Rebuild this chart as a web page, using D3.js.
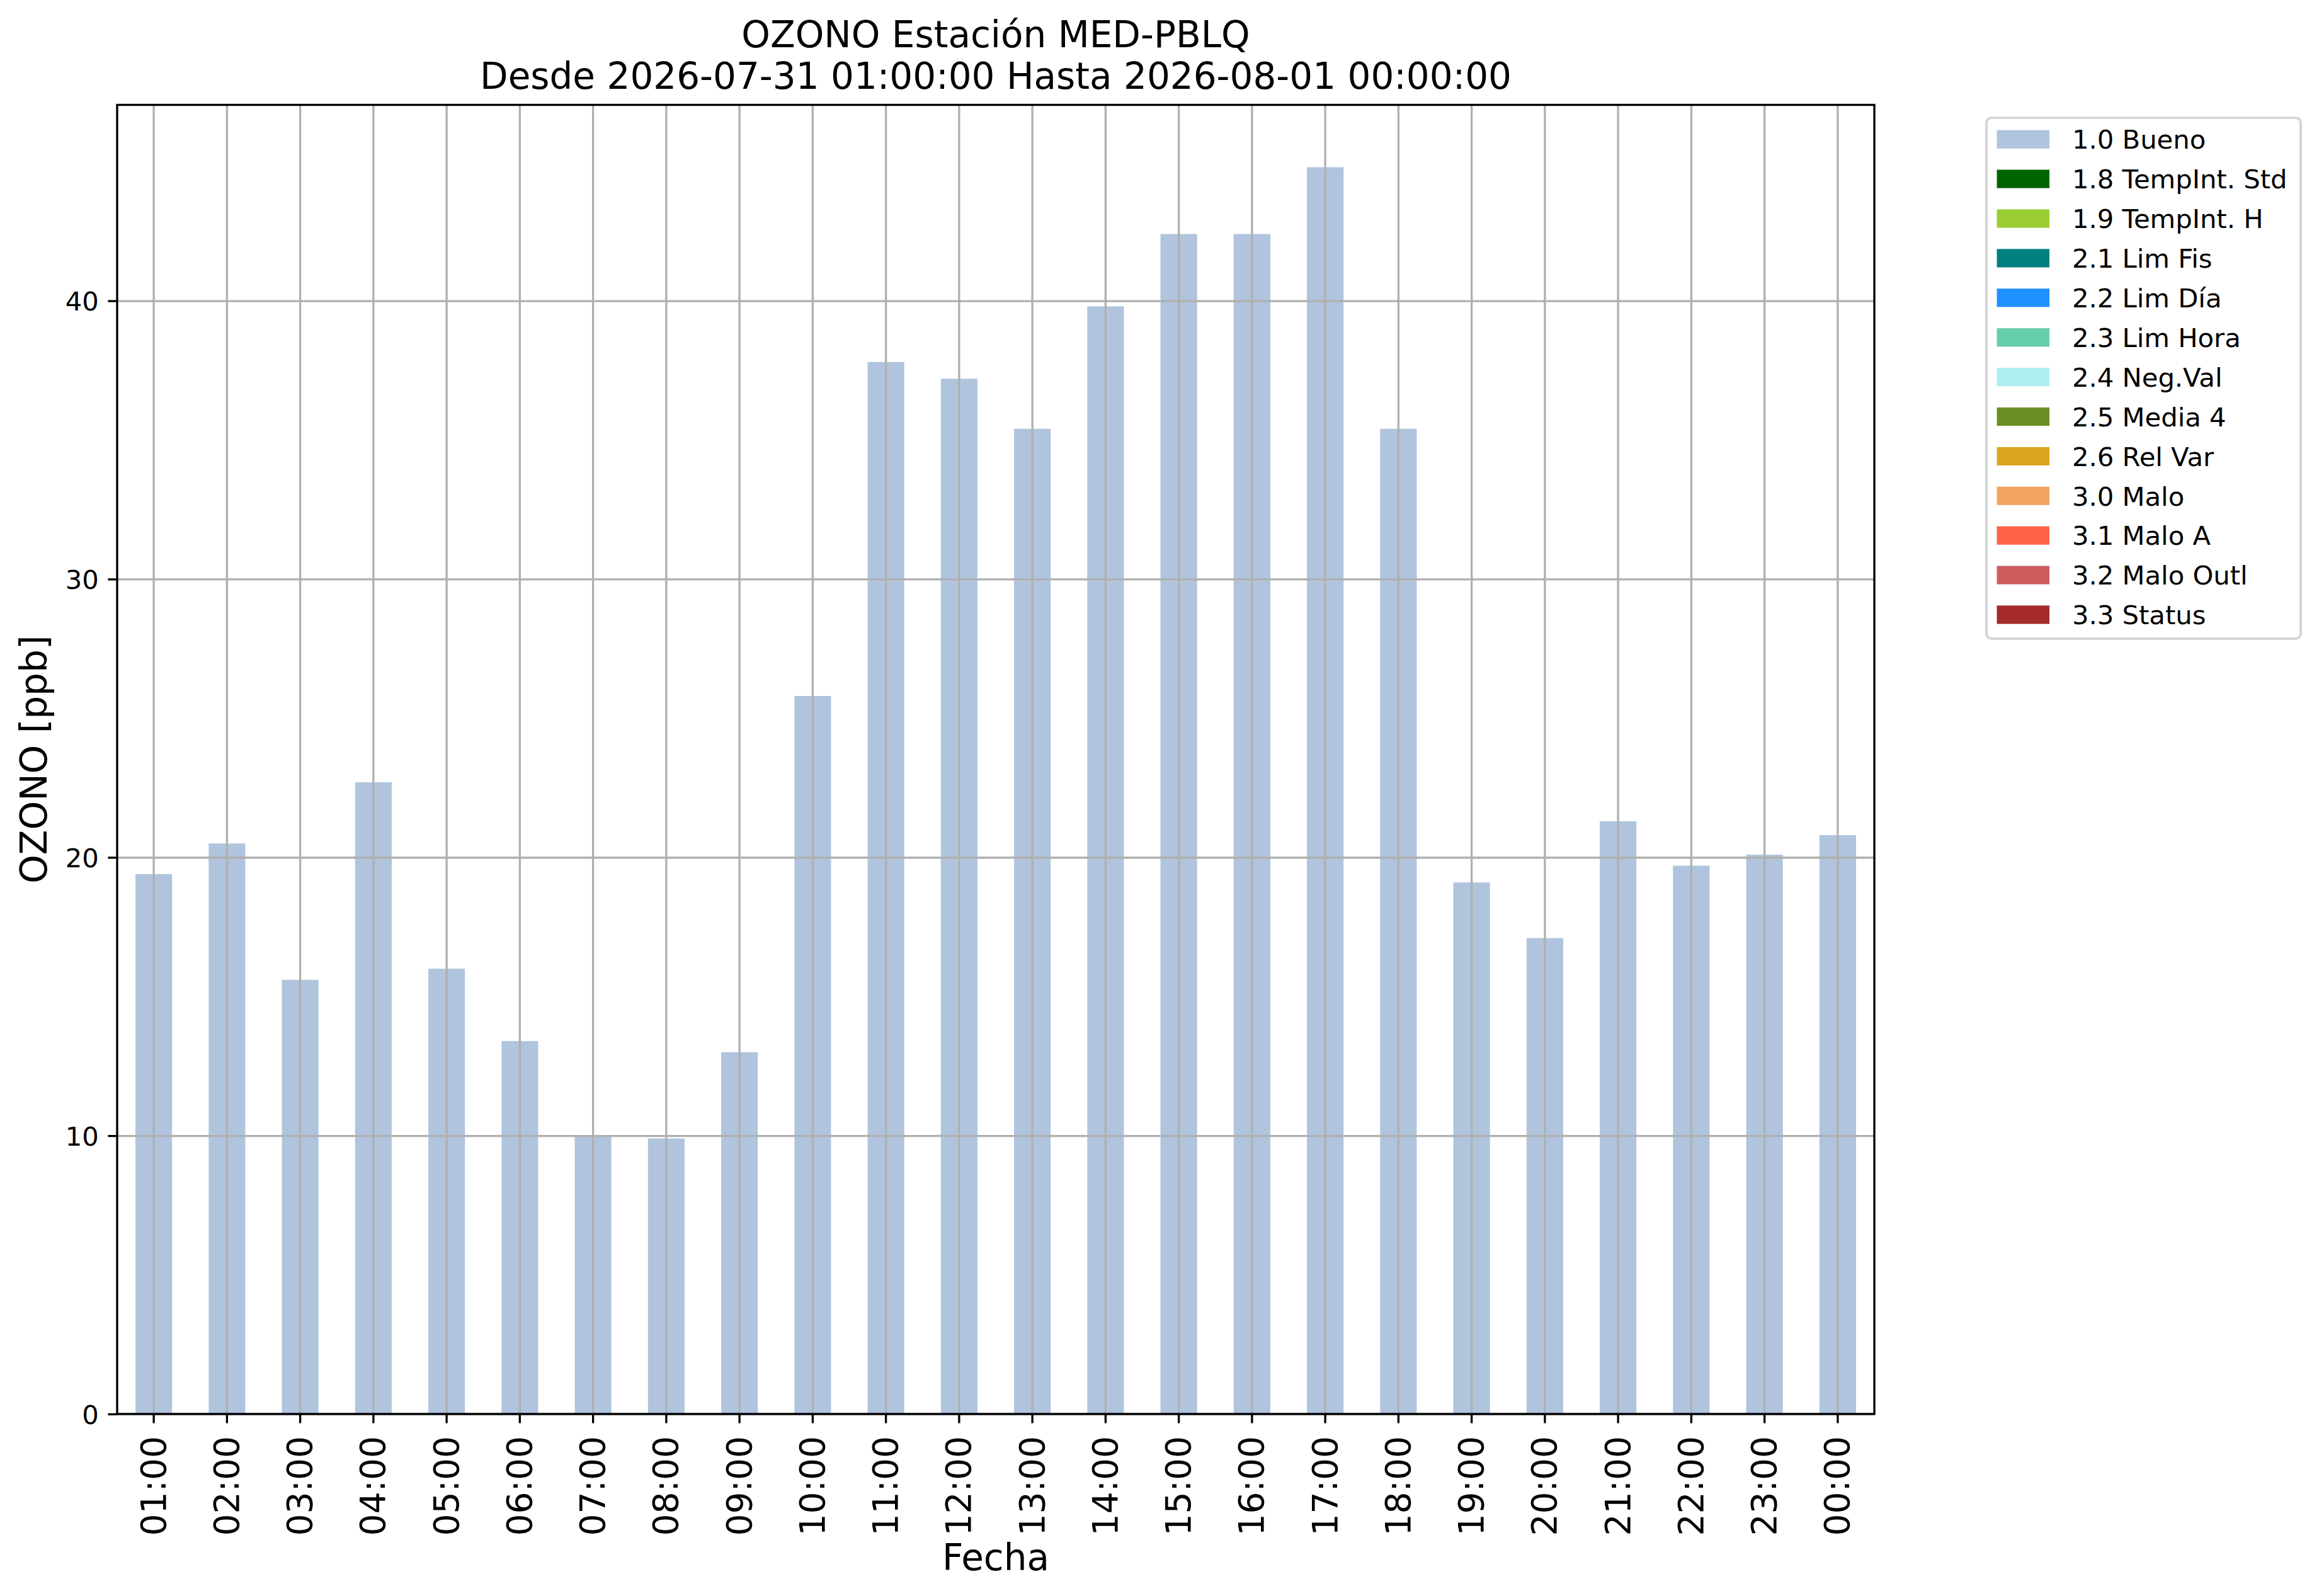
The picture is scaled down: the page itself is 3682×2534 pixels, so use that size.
<!DOCTYPE html>
<html>
<head>
<meta charset="utf-8">
<script src="https://cdn.jsdelivr.net/npm/d3@7"></script>
<style>
    body { margin: 0; background: #fff; }
    svg { display: block; }
</style>
</head>
<body>
<div id="graph-container"></div>
<script>
// Daten: eine Stunde pro Balken
var horas = ["01:00", "02:00", "03:00", "04:00", "05:00", "06:00", "07:00", "08:00",
    "09:00", "10:00", "11:00", "12:00", "13:00", "14:00", "15:00", "16:00",
    "17:00", "18:00", "19:00", "20:00", "21:00", "22:00", "23:00", "00:00"];
var ozono = [19.4, 20.5, 15.6, 22.7, 16.0, 13.4, 10.0, 9.9,
    13.0, 25.8, 37.8, 37.2, 35.4, 39.8, 42.4, 42.4,
    44.8, 35.4, 19.1, 17.1, 21.3, 19.7, 20.1, 20.8];
var yTicks = [0, 10, 20, 30, 40];
var legendLabels = ["1.0 Bueno", "1.8 TempInt. Std", "1.9 TempInt. H", "2.1 Lim Fis",
    "2.2 Lim Día", "2.3 Lim Hora", "2.4 Neg.Val", "2.5 Media 4", "2.6 Rel Var",
    "3.0 Malo", "3.1 Malo A", "3.2 Malo Outl", "3.3 Status"];
var legendColors = ["#b0c4de", "#006400", "#9acd32", "#008080", "#1e90ff", "#66cdaa",
    "#afeeee", "#6b8e23", "#daa520", "#f4a460", "#ff6347", "#cd5c5c", "#a52a2a"];
var titleLines = ["OZONO Estación MED-PBLQ", "Desde 2026-07-31 01:00:00 Hasta 2026-08-01 00:00:00"];

var width = 3682;
var height = 2534;
// Achsenbereich (Pixel)
var axLeft = 186, axRight = 2976, axTop = 166.5, axBottom = 2245;
var font = "DejaVu Sans";
var lw = 3.33;       // 0.8pt bei 300 dpi
var tickLen = 14.6;  // 3.5pt

var svg = d3.select("#graph-container")
    .append("svg")
    .attr("width", width)
    .attr("height", height)
    .style("font-family", font);

var data = horas.map(function (h, i) { return { hora: h, valor: ozono[i] }; });

var x = d3.scaleBand()
    .domain(horas)
    .range([axLeft, axRight])
    .paddingInner(0.5)
    .paddingOuter(0.25);

var y = d3.scaleLinear()
    .domain([0, d3.max(ozono) * 1.05])
    .range([axBottom, axTop]);

// Balken
svg.append("g")
    .selectAll("rect")
    .data(data)
    .join("rect")
    .attr("x", d => x(d.hora))
    .attr("width", x.bandwidth())
    .attr("y", d => y(d.valor))
    .attr("height", d => y(0) - y(d.valor))
    .attr("fill", "#b0c4de");

// Gitter liegt über den Balken
var gridX = svg.append("g")
    .attr("transform", "translate(0," + axBottom + ")")
    .call(d3.axisBottom(x).tickSize(-(axBottom - axTop)).tickFormat(""));
var gridY = svg.append("g")
    .attr("transform", "translate(" + axLeft + ",0)")
    .call(d3.axisLeft(y).tickValues(yTicks).tickSize(-(axRight - axLeft)).tickFormat(""));
[gridX, gridY].forEach(function (g) {
    g.select(".domain").remove();
    g.selectAll("line").attr("stroke", "#b0b0b0").attr("stroke-width", lw);
});

// Achsenrahmen
svg.append("rect")
    .attr("x", axLeft)
    .attr("y", axTop)
    .attr("width", axRight - axLeft)
    .attr("height", axBottom - axTop)
    .attr("fill", "none")
    .attr("stroke", "#000")
    .attr("stroke-width", lw);

// Y-Achse
var yAxis = svg.append("g")
    .attr("transform", "translate(" + axLeft + ",0)")
    .call(d3.axisLeft(y).tickValues(yTicks).tickSize(tickLen).tickPadding(tickLen));
yAxis.select(".domain").remove();
yAxis.selectAll("line").attr("stroke", "#000").attr("stroke-width", lw);
yAxis.selectAll("text")
    .attr("dy", "0.36em")
    .style("font-family", font)
    .style("font-size", "41.7px")
    .attr("fill", "#000");

// X-Achse mit gedrehten Beschriftungen
var xAxis = svg.append("g")
    .attr("transform", "translate(0," + axBottom + ")")
    .call(d3.axisBottom(x).tickSize(tickLen));
xAxis.select(".domain").remove();
xAxis.selectAll("line").attr("stroke", "#000").attr("stroke-width", lw);
xAxis.selectAll("text")
    .attr("transform", "rotate(-90)")
    .attr("text-anchor", "end")
    .attr("x", -35)
    .attr("y", 18.5)
    .attr("dy", 0)
    .style("font-family", font)
    .style("font-size", "55px")
    .attr("fill", "#000");

// Titel
svg.append("g")
    .selectAll("text")
    .data(titleLines)
    .join("text")
    .attr("x", (axLeft + axRight) / 2)
    .attr("y", (d, i) => 74.6 + i * 66.2)
    .attr("text-anchor", "middle")
    .style("font-size", "58px")
    .text(d => d);

// Achsentitel
svg.append("text")
    .attr("x", (axLeft + axRight) / 2)
    .attr("y", 2492.7)
    .attr("text-anchor", "middle")
    .style("font-size", "58px")
    .text("Fecha");

svg.append("text")
    .attr("transform", "translate(73.5," + ((axTop + axBottom) / 2) + ") rotate(-90)")
    .attr("text-anchor", "middle")
    .style("font-size", "58px")
    .text("OZONO [ppb]");

// Legende
var legend = svg.append("g");
legend.append("rect")
    .attr("x", 3154)
    .attr("y", 187)
    .attr("width", 499)
    .attr("height", 827)
    .attr("rx", 8)
    .attr("fill", "#fff")
    .attr("stroke", "#d6d6d6")
    .attr("stroke-width", 4.17);

var rowY = d3.scaleLinear().domain([0, 1]).range([221.2, 284.1]);
var items = legend.selectAll("g.item")
    .data(legendLabels)
    .join("g")
    .attr("class", "item")
    .attr("transform", (d, i) => "translate(0," + rowY(i) + ")");
items.append("rect")
    .attr("x", 3170.5)
    .attr("y", -14.6)
    .attr("width", 83.5)
    .attr("height", 29.2)
    .attr("fill", (d, i) => legendColors[i]);
items.append("text")
    .attr("x", 3290)
    .attr("y", 15.2)
    .style("font-size", "41.7px")
    .text(d => d);
</script>
</body>
</html>
